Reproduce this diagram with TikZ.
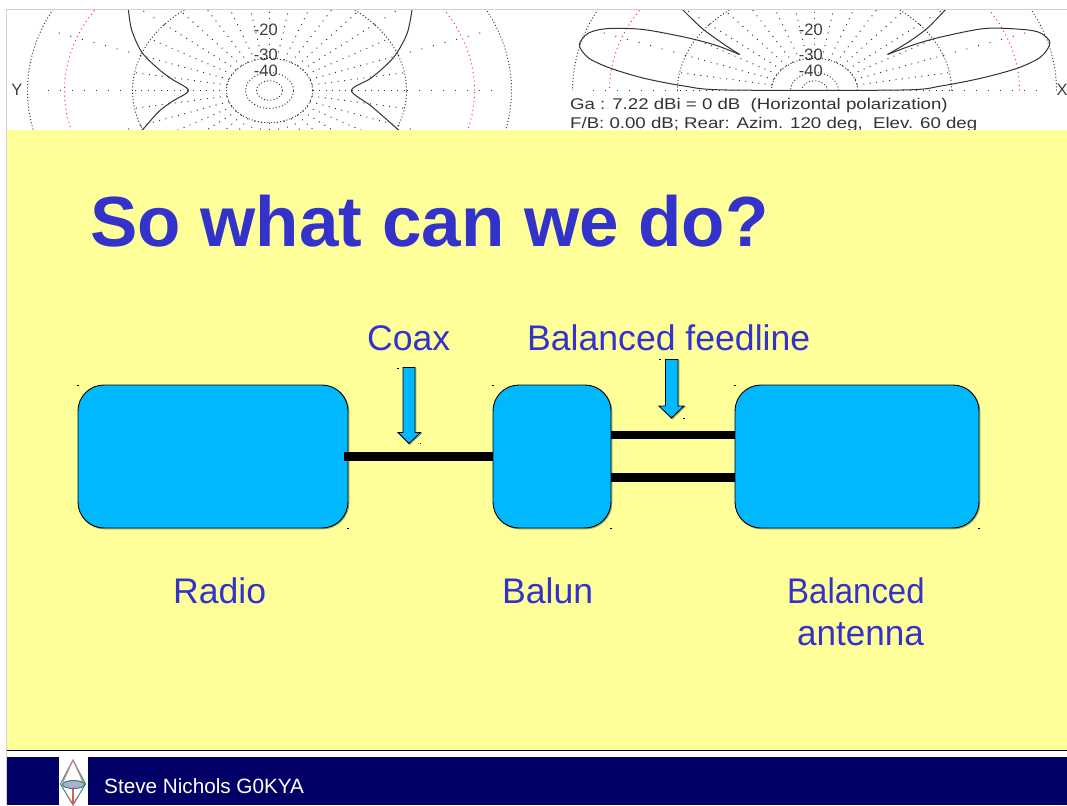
\documentclass[tikz,border=0pt]{standalone}
\usepackage{fontspec}
\setmainfont{Liberation Sans}
\usetikzlibrary{calc}
\definecolor{slideyellow}{RGB}{255,255,153}
\definecolor{slideblue}{RGB}{51,51,204}
\definecolor{boxblue}{RGB}{0,184,255}
\definecolor{navyband}{RGB}{0,0,102}
\definecolor{plotgrey}{RGB}{50,50,50}
\definecolor{shadowolive}{RGB}{160,160,100}
\tikzset{
  x=1pt,y=-1pt,
  grid ring/.style={draw=plotgrey,line width=0.95pt,dash pattern=on 1pt off 2.2pt},
  red ring/.style={draw=red!85,line width=0.95pt,dash pattern=on 1pt off 3.4pt},
  inner spoke/.style={draw=plotgrey,line width=0.95pt,dash pattern=on 1pt off 5.5pt},
  outer spoke/.style={draw=plotgrey,line width=0.95pt,dash pattern=on 1pt off 11pt},
  lobe/.style={draw=black!80,line width=1pt,line join=round},
  plot label/.style={text=black!75,font=\fontsize{16.5}{17}\selectfont,inner sep=0pt},
  plot caption/.style={text=black!80,font=\fontsize{15.5}{16}\selectfont,inner sep=0pt,anchor=base west},
  slide text/.style={text=slideblue,font=\fontsize{35.6}{36}\selectfont,inner sep=0pt,anchor=base west},
  soft shadow/.style={preaction={draw=shadowolive,line width=1pt,transform canvas={shift={(0.8pt,-0.8pt)}}}},
  blockbox/.style={draw=black,line width=0.9pt,fill=boxblue,rounded corners=26pt,inner sep=0pt,outer sep=0pt,minimum height=143pt,soft shadow},
  wire/.style={draw=black,line width=8.6pt},
  callout/.style={draw=black,line width=0.8pt,fill=boxblue,line join=miter,soft shadow},
  tick mark/.style={fill=black,inner sep=0pt,minimum width=1.6pt,minimum height=1pt},
}
\newcommand{\polargrid}[3]{%
  \foreach \rx in {242,137,43,24,13}{\draw[grid ring] (#1,#2) ellipse [x radius=\rx pt,y radius=0.75*\rx pt];}
  \draw[red ring] (#1,#2) ellipse [x radius=205pt,y radius=154pt];
  \foreach \a in {0,10,...,350}{\draw[inner spoke] ($(#1,#2)+({43*cos(\a)},{0.75*43*sin(\a)})$) -- ($(#1,#2)+({137*cos(\a)},{0.75*137*sin(\a)})$);}
  \foreach \a in {0,20,...,340}{\draw[outer spoke] ($(#1,#2)+({137*cos(\a)},{0.75*137*sin(\a)})$) -- ($(#1,#2)+({232*cos(\a)},{0.75*232*sin(\a)})$);}
  \node[plot label,anchor=east] at (#3,30) {-20};
  \node[plot label,anchor=east] at (#3,55) {-30};
  \node[plot label,anchor=east] at (#3,71) {-40};
}
\begin{document}
\begin{tikzpicture}
\useasboundingbox (0,0) rectangle (1067,805);
\fill[white] (0,0) rectangle (1067,805);
% left plot
\begin{scope}
\clip (8,10) rectangle (540,130);
\polargrid{269.5}{90.5}{278}
\draw[lobe] plot[smooth,tension=0.5] coordinates {(128.4,10) (131.8,30.4) (141.9,52.4) (158.8,69.3) (172.3,79.4) (188.5,90.5) (172.3,101.4) (158.8,111.5) (145.3,126.7) (140,132)};
\draw[lobe] plot[smooth,tension=0.5] coordinates {(412,10) (407,33.8) (393.6,57.4) (371.6,77.7) (351.4,90.5) (371.6,106.4) (398.6,130) (401,132)};
\end{scope}
% right plot
\begin{scope}
\clip (540,10) rectangle (1067,90.5);
\polargrid{814.5}{90.5}{823}
\draw[lobe] plot[smooth,tension=0.5] coordinates {(682,9) (701.6,28) (722,43) (739.6,54.5)};
\draw[lobe] plot[smooth,tension=0.5] coordinates {(739.6,54.5) (715,45) (684,37) (643,29.5) (609,28.5) (588.6,33) (579.3,45) (588.6,58) (610,68) (643,78) (684,86) (727,90) (902,90) (941,86) (982,78) (1018,68) (1040.6,57) (1050,43) (1040.6,33) (1023,29.5) (985,28.5) (941,37) (913,45) (887.5,54.5)};
\draw[lobe] plot[smooth,tension=0.5] coordinates {(887.5,54.5) (907,43) (927.6,28) (946,9)};
\end{scope}
\node[plot label] (axisy) at (17,90) {Y};
\node[plot label] (axisx) at (1062,90) {X};
\node[plot caption] (caption a) at (570,109.5) {\scalebox{1.203}[1]{Ga : 7.22 dBi = 0 dB\ \ (Horizontal polarization)}};
\node[plot caption] (caption b) at (570,128.5) {\scalebox{1.203}[1]{F/B: 0.00 dB; Rear: Azim. 120 deg,\ \ Elev. 60 deg}};
% slide background
\fill[slideyellow] (7,130) rectangle (1067,750);
\draw[black!18,line width=1pt] (7,9.5) -- (1067,9.5);
\draw[black!18,line width=1pt] (6.5,9) -- (6.5,805);
\draw[black,line width=1pt] (7,750.5) -- (1067,750.5);
\fill[navyband] (7,757) rectangle (1067,805);
% title
\node[slide text,font=\fontsize{71}{72}\selectfont\bfseries] (title) at (90,246) {So what can we do?};
% blocks
\node[blockbox,minimum width=270pt] (radio) at (213,456.5) {};
\node[blockbox,minimum width=118pt] (balun) at (552,456.5) {};
\node[blockbox,minimum width=244pt] (antenna) at (857,456.5) {};
\draw[wire] ([xshift=-4pt]radio.east) -- (balun.west);
\draw[wire] ([yshift=21.5pt]balun.east) -- ([yshift=21.5pt]antenna.west);
\draw[wire] ([yshift=-21pt]balun.east) -- ([yshift=-21pt]antenna.west);
% callout arrows
\draw[callout] (403,367.5) -- (415,367.5) -- (415,432.5) -- (420.5,432.5) -- (409,443.5) -- (398,432.5) -- (403,432.5) -- cycle;
\draw[callout] (665.5,359.5) -- (678,359.5) -- (678,406) -- (684,406) -- (671.5,418) -- (659,406) -- (665.5,406) -- cycle;
% tiny handle marks
\foreach \mx/\my in {78/385,348/528,493/385,611/528,735/385,979/528,398/368,420.5/443,660/359,684/418}{\node[tick mark] at (\mx,\my) {};}
% labels
\node[slide text] (coax) at (367,350) {Coax};
\node[slide text] (feed) at (527,350) {Balanced feedline};
\node[slide text] (lradio) at (173,603) {Radio};
\node[slide text] (lbalun) at (502,603) {Balun};
\node[slide text] (lant a) at (787,603) {\scalebox{0.926}[1]{Balanced}};
\node[slide text] (lant b) at (797,645) {\scalebox{0.985}[1]{antenna}};
% footer
\fill[white] (59,757) rectangle (88,805);
\draw[teal!45!gray,line width=1pt] (73,760) -- (60.5,784) -- (73,805) -- (85.5,784) -- cycle;
\draw[red!35!gray!70,line width=1pt] (73,760) -- (63,782) (73,760) -- (83,782);
\draw[red!55!gray!80,line width=1.3pt] (73,788) -- (73,805);
\draw[red!55!gray!80,line width=1pt] (68,797) -- (73,804) -- (78,797);
\draw[teal!60!gray,fill=blue!25!gray!50,line width=1pt] (73.5,784.5) ellipse [x radius=11pt,y radius=4pt];
\node[text=white,font=\fontsize{20.7}{22}\selectfont,inner sep=0pt,anchor=base west] (footer) at (104,793) {Steve Nichols G0KYA};
\end{tikzpicture}
\end{document}
